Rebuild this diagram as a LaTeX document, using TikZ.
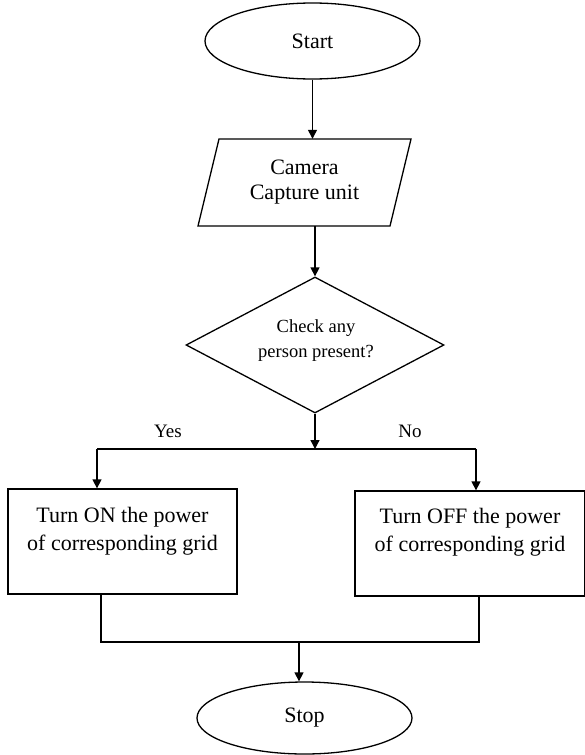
\documentclass[tikz,border=0pt]{standalone}
\usepackage{fontspec}
\setmainfont{Liberation Serif}
\usetikzlibrary{shapes.geometric,arrows.meta}
\tikzset{
  line/.style={draw=black,line width=1.3pt},
  arrow/.style={line,-{Triangle[length=9pt,width=9pt]}},
  terminal/.style={ellipse,line,minimum width=215pt,minimum height=76pt,inner sep=0pt,
     font=\fontsize{22}{26}\selectfont},
  decision/.style={diamond,line,minimum width=258pt,minimum height=136pt,inner sep=0pt},
  dectext/.style={align=center,inner sep=0pt,font=\fontsize{18.5}{25}\selectfont},
  procbox/.style={rectangle,line,minimum width=229pt,minimum height=105pt,inner sep=0pt},
  boxtext/.style={align=center,inner sep=0pt,font=\fontsize{22}{28}\selectfont},
  iotext/.style={align=center,inner sep=0pt,minimum width=192pt,minimum height=87pt,
     font=\fontsize{22}{25}\selectfont},
  branchlabel/.style={inner sep=0pt,font=\fontsize{19}{22}\selectfont}
}
\begin{document}
\begin{tikzpicture}[x=1pt,y=-1pt]
\useasboundingbox (0,0) rectangle (584,755);
% Start
\node[terminal] (start) at (312.5,41) {Start};
% Camera (parallelogram)
\node[iotext] (cam) at (304.5,182.5) {Camera\\Capture unit};
\draw[line] (219,139) -- (411,139) -- (390,226) -- (198,226) -- cycle;
% Decision
\node[decision] (dia) at (315,345) {};
\node[dectext] (diatxt) at (316,341) {Check any\\person present?};
% Boxes
\node[procbox] (on) at (122.5,541.5) {};
\node[boxtext] (ontxt) at (122.5,531) {Turn ON the power\\of corresponding grid};
\node[procbox,minimum width=230pt] (off) at (470,543.5) {};
\node[boxtext] (offtxt) at (470,532) {Turn OFF the power\\of corresponding grid};
% Stop
\node[terminal,minimum height=72pt] (stop) at (304.5,718) {Stop};
% Labels
\node[branchlabel] (yes) at (168,431) {Yes};
\node[branchlabel] (no) at (410,431) {No};
% Coordinates
\coordinate (split) at (315,449);
\coordinate (yesx) at (97,449);
\coordinate (nox) at (476,449);
\coordinate (onout) at (101,642);
\coordinate (offout) at (479,642);
\coordinate (merge) at (299,642);
% Connectors
\draw[arrow] (start.south) -- (start.south |- cam.north);
\draw[arrow] (dia.north |- cam.south) -- (dia.north);
\draw[arrow] (dia.south) -- (split);
\draw[line] (yesx) -- (nox);
\draw[arrow] (yesx) -- (yesx |- on.north);
\draw[arrow] (nox) -- (nox |- off.north);
\draw[line] (onout |- on.south) -- (onout) -- (offout) -- (offout |- off.south);
\draw[arrow] (merge) -- (merge |- stop.north);
\end{tikzpicture}
\end{document}
